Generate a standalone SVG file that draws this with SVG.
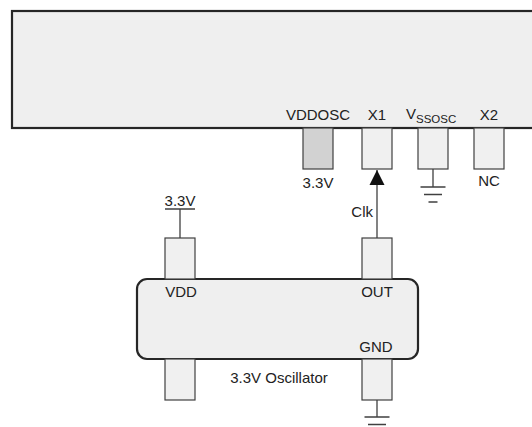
<svg xmlns="http://www.w3.org/2000/svg" width="532" height="427" viewBox="0 0 532 427">
<defs>
<style>
.box{fill:#efefef;stroke:#262626;stroke-width:2.2}
.pin{fill:#f0f0f0;stroke:#404040;stroke-width:1.2}
.pinv{fill:#d2d2d2;stroke:#404040;stroke-width:1.2}
.w{stroke:#404040;stroke-width:1.3;fill:none}
.t{font-family:"Liberation Sans",Arial,sans-serif;font-size:15px;fill:#222}
.s{font-size:11.5px}
</style>
<marker id="arr" markerWidth="16" markerHeight="16" refX="0" refY="0" viewBox="-15 -8 16 16" markerUnits="userSpaceOnUse" orient="auto">
<path d="M0,0 L-15,-7.5 L-15,7.5 Z" fill="#111"/>
</marker>
</defs>
<rect width="532" height="427" fill="#fff"/>
<g id="chip">
<rect class="box" x="12" y="11" width="540" height="117"/>
<text class="t" x="318" y="120" text-anchor="middle">VDDOSC</text>
<text class="t" x="377" y="120" text-anchor="middle">X1</text>
<text class="t" x="406" y="119">V<tspan class="s" dy="3.5">SSOSC</tspan></text>
<text class="t" x="489" y="120" text-anchor="middle">X2</text>
</g>
<g id="pin-vddosc">
<rect class="pinv" x="303" y="128" width="30" height="41"/>
<text class="t" x="318" y="188" text-anchor="middle">3.3V</text>
</g>
<g id="pin-x1">
<rect class="pin" x="362" y="128" width="30" height="41"/>
</g>
<g id="pin-vssosc">
<rect class="pin" x="418" y="128" width="30" height="41"/>
<path class="w" d="M433,169 V187 M420.5,187 H445.5 M424,194.5 H442 M428.5,202 H437.5"/>
</g>
<g id="pin-x2">
<rect class="pin" x="474" y="128" width="30" height="41"/>
<text class="t" x="489" y="186" text-anchor="middle">NC</text>
</g>
<g id="oscillator">
<rect class="box" x="137" y="279" width="281" height="80" rx="10"/>
<text class="t" x="181" y="297" text-anchor="middle">VDD</text>
<text class="t" x="377" y="297" text-anchor="middle">OUT</text>
<text class="t" x="376" y="352" text-anchor="middle">GND</text>
<text class="t" x="279" y="383" text-anchor="middle">3.3V Oscillator</text>
</g>
<g id="osc-pin-vdd">
<rect class="pin" x="165" y="238" width="30" height="41"/>
<path class="w" d="M180,238 V209 M165,209 H195"/>
<text class="t" x="180" y="206" text-anchor="middle">3.3V</text>
</g>
<g id="osc-pin-out">
<rect class="pin" x="362" y="238" width="30" height="41"/>
</g>
<g id="osc-pin-nc">
<rect class="pin" x="165" y="359" width="30" height="41"/>
</g>
<g id="osc-pin-gnd">
<rect class="pin" x="362" y="359" width="30" height="41"/>
<path class="w" d="M377,400 V417 M364.5,417 H389.5 M368,424.5 H386 M372.5,432 H381.5"/>
</g>
<g id="connectors">
<path class="w" d="M377,238 V170" marker-end="url(#arr)"/>
<text class="t" x="373" y="217" text-anchor="end">Clk</text>
</g>
</svg>
